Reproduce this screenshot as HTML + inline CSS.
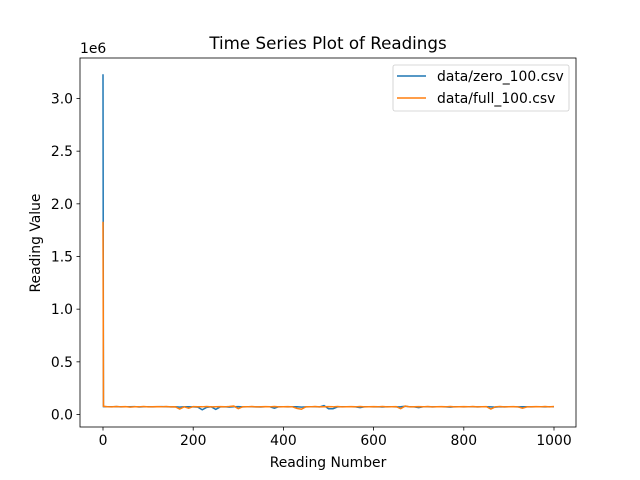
<!DOCTYPE html>
<html><head><meta charset="utf-8"><style>
body{margin:0;background:#fff;}
svg{display:block;font-family:"DejaVu Sans","Liberation Sans",sans-serif;}
</style></head><body>
<svg id="chart" width="640" height="480" viewBox="0 0 640 480"></svg>
<script>
const xIdx = [0,1,10,20,30,40,50,60,70,80,90,100,110,120,130,140,150,160,170,180,190,200,210,220,230,240,250,260,270,280,290,300,310,320,330,340,350,360,370,380,390,400,410,420,430,440,450,460,470,480,490,500,510,520,530,540,550,560,570,580,590,600,610,620,630,640,650,660,670,680,690,700,710,720,730,740,750,760,770,780,790,800,810,820,830,840,850,860,870,880,890,900,910,920,930,940,950,960,970,980,990,1000];
const zeroSeries = [3230000,75000,74000,73000,75000,72000,74000,73000,75000,71000,74000,73000,72000,74000,75000,73000,72000,74000,70000,73000,74000,72000,70000,45000,68000,73000,48000,72000,74000,70000,73000,75000,72000,74000,73000,72000,71000,74000,73000,60000,74000,73000,72000,74000,73000,70000,72000,74000,73000,72000,85000,55000,55000,72000,74000,73000,74000,72000,65000,73000,74000,72000,73000,71000,74000,73000,72000,74000,78000,73000,72000,65000,73000,74000,72000,73000,74000,72000,70000,73000,74000,72000,73000,74000,72000,73000,74000,72000,70000,73000,72000,74000,73000,72000,74000,73000,72000,74000,73000,72000,74000,73000];
const fullSeries = [1830000,78000,74000,72000,76000,73000,75000,70000,74000,73000,76000,72000,74000,75000,73000,76000,72000,74000,52000,73000,60000,75000,74000,73000,76000,72000,74000,75000,73000,76000,80000,55000,74000,73000,76000,72000,74000,75000,73000,76000,72000,74000,75000,73000,58000,50000,74000,73000,76000,72000,74000,75000,73000,76000,72000,74000,75000,73000,76000,72000,74000,75000,73000,76000,72000,74000,75000,55000,80000,72000,74000,75000,73000,76000,72000,74000,75000,73000,76000,72000,74000,75000,73000,76000,72000,74000,75000,52000,73000,76000,72000,74000,75000,73000,60000,72000,74000,75000,73000,76000,72000,76000];
const xTicks = [0,200,400,600,800,1000];
const yTicks = [0,0.5e6,1.0e6,1.5e6,2.0e6,2.5e6,3.0e6];
const yTickLabels = ["0.0","0.5","1.0","1.5","2.0","2.5","3.0"];

const L=80,R=576,T=58,B=427;
const FS=13.9;
const sx=v=>103+v*(554-103)/1000;
const sy=v=>414.5-v*(316/3e6);
const svg=document.getElementById('chart');
const NS='http://www.w3.org/2000/svg';
function mk(tag,attrs,parent){const e=document.createElementNS(NS,tag);for(const k in attrs)e.setAttribute(k,attrs[k]);(parent||svg).appendChild(e);return e;}
function txt(s,attrs){const e=mk('text',attrs);e.textContent=s;return e;}

function line(data,color,name){
  const p=mk('polyline',{points:xIdx.map((x,i)=>sx(x)+','+sy(data[i])).join(' '),fill:'none',stroke:color,'stroke-width':1.5});
  
  
}
line(zeroSeries,'#1f77b4','series-zero-100');
line(fullSeries,'#ff7f0e','series-full-100');

const frame=mk('rect',{x:L,y:T,width:R-L,height:B-T,fill:'none',stroke:'#000','stroke-width':0.8});



xTicks.forEach(v=>{
  mk('line',{x1:sx(v),x2:sx(v),y1:B,y2:B+3.5,stroke:'#000','stroke-width':0.8});
  const t=txt(String(v),{x:sx(v),y:B+18,'text-anchor':'middle','font-size':FS});
  
  
});
yTicks.forEach((v,i)=>{
  mk('line',{x1:L-3.5,x2:L,y1:sy(v),y2:sy(v),stroke:'#000','stroke-width':0.8});
  const t=txt(yTickLabels[i],{x:L-7,y:sy(v)+5,'text-anchor':'end','font-size':FS});
  
  
});
const off=txt('1e6',{x:80,y:53,'font-size':FS});


const title=txt('Time Series Plot of Readings',{x:328,y:49,'text-anchor':'middle','font-size':16.7});


const xl=txt('Reading Number',{x:328,y:467,'text-anchor':'middle','font-size':FS});


const yl=txt('Reading Value',{x:40,y:243,'text-anchor':'middle','font-size':FS,transform:'rotate(-90 40 243)'});



const lg=mk('g',{});


mk('rect',{x:393,y:65,width:176,height:46,rx:2,fill:'#fff','fill-opacity':0.8,stroke:'#ccc','stroke-width':0.8},lg);
[['data/zero_100.csv','#1f77b4',76],['data/full_100.csv','#ff7f0e',98]].forEach(([lab,c,y])=>{
  const e=mk('g',{},lg);
  
  
  mk('line',{x1:397,x2:426,y1:y,y2:y,stroke:c,'stroke-width':1.5},e);
  const t=mk('text',{x:437,y:y+5,'font-size':FS},e);t.textContent=lab;
});
</script>
</body></html>
